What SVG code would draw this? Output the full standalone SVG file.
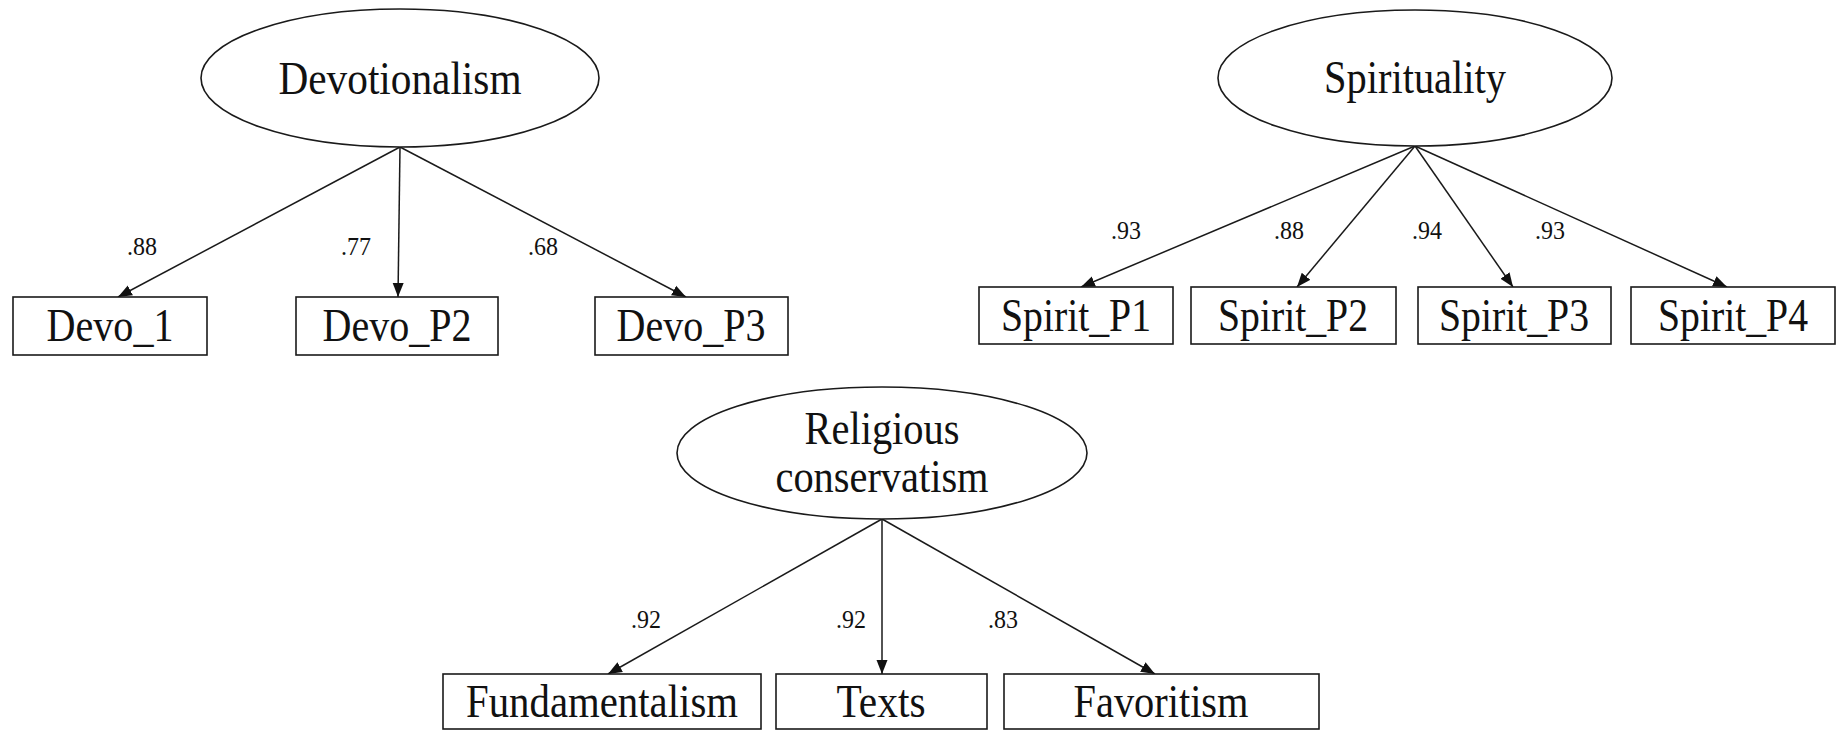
<svg xmlns="http://www.w3.org/2000/svg" width="1842" height="730" viewBox="0 0 1842 730">
  <style>
    .latent { fill: #ffffff; stroke: #1a1a1a; stroke-width: 1.6; }
    .obs { fill: #ffffff; stroke: #1a1a1a; stroke-width: 1.6; }
    .name { font-family: "Liberation Serif", "Times New Roman", serif; font-size: 46px; fill: #111111; text-anchor: middle; }
    .coef { font-family: "Liberation Serif", "Times New Roman", serif; font-size: 25px; fill: #111111; text-anchor: middle; }
    .path { stroke: #1a1a1a; stroke-width: 1.5; fill: none; marker-end: url(#head); }
  </style>
  <defs>
    <marker id="head" markerUnits="userSpaceOnUse" markerWidth="15" markerHeight="12" refX="14" refY="6" orient="auto">
      <path d="M0,0.5 L14,6 L0,11.5 z" fill="#111111"/>
    </marker>
  </defs>

  <rect width="1842" height="730" fill="#ffffff"/>

  <!-- loading paths -->
  <g id="connectors">
    <line class="path" x1="400" y1="147" x2="118" y2="297"/>
    <line class="path" x1="400" y1="147" x2="398" y2="297"/>
    <line class="path" x1="400" y1="147" x2="686" y2="297"/>

    <line class="path" x1="1415" y1="146" x2="1081" y2="287"/>
    <line class="path" x1="1415" y1="146" x2="1297" y2="287"/>
    <line class="path" x1="1415" y1="146" x2="1513" y2="287"/>
    <line class="path" x1="1415" y1="146" x2="1727" y2="287"/>

    <line class="path" x1="882" y1="519" x2="608" y2="674"/>
    <line class="path" x1="882" y1="519" x2="882" y2="674"/>
    <line class="path" x1="882" y1="519" x2="1155" y2="674"/>
  </g>

  <!-- standardized loadings -->
  <g id="loadings">
    <text class="coef" x="142" y="255" textLength="30" lengthAdjust="spacingAndGlyphs">.88</text>
    <text class="coef" x="356" y="255" textLength="30" lengthAdjust="spacingAndGlyphs">.77</text>
    <text class="coef" x="543" y="255" textLength="30" lengthAdjust="spacingAndGlyphs">.68</text>

    <text class="coef" x="1126" y="239" textLength="30" lengthAdjust="spacingAndGlyphs">.93</text>
    <text class="coef" x="1289" y="239" textLength="30" lengthAdjust="spacingAndGlyphs">.88</text>
    <text class="coef" x="1427" y="239" textLength="30" lengthAdjust="spacingAndGlyphs">.94</text>
    <text class="coef" x="1550" y="239" textLength="30" lengthAdjust="spacingAndGlyphs">.93</text>

    <text class="coef" x="646" y="628" textLength="30" lengthAdjust="spacingAndGlyphs">.92</text>
    <text class="coef" x="851" y="628" textLength="30" lengthAdjust="spacingAndGlyphs">.92</text>
    <text class="coef" x="1003" y="628" textLength="30" lengthAdjust="spacingAndGlyphs">.83</text>
  </g>

  <!-- latent factors -->
  <g id="devotionalism">
    <ellipse class="latent" cx="400" cy="78" rx="199" ry="69"/>
    <text class="name" x="400" y="94" textLength="243" lengthAdjust="spacingAndGlyphs">Devotionalism</text>
  </g>
  <g id="spirituality">
    <ellipse class="latent" cx="1415" cy="78" rx="197" ry="68"/>
    <text class="name" x="1415" y="93" textLength="182" lengthAdjust="spacingAndGlyphs">Spirituality</text>
  </g>
  <g id="religious-conservatism">
    <ellipse class="latent" cx="882" cy="453" rx="205" ry="66"/>
    <text class="name" x="882" y="444" textLength="155" lengthAdjust="spacingAndGlyphs">Religious</text>
    <text class="name" x="882" y="492" textLength="213" lengthAdjust="spacingAndGlyphs">conservatism</text>
  </g>

  <!-- indicators -->
  <g id="devo-1">
    <rect class="obs" x="13" y="297" width="194" height="58"/>
    <text class="name" x="110" y="341" textLength="127" lengthAdjust="spacingAndGlyphs">Devo_1</text>
  </g>
  <g id="devo-p2">
    <rect class="obs" x="296" y="297" width="202" height="58"/>
    <text class="name" x="397" y="341" textLength="149" lengthAdjust="spacingAndGlyphs">Devo_P2</text>
  </g>
  <g id="devo-p3">
    <rect class="obs" x="595" y="297" width="193" height="58"/>
    <text class="name" x="691" y="341" textLength="149" lengthAdjust="spacingAndGlyphs">Devo_P3</text>
  </g>

  <g id="spirit-p1">
    <rect class="obs" x="979" y="287" width="194" height="57"/>
    <text class="name" x="1076" y="331" textLength="150" lengthAdjust="spacingAndGlyphs">Spirit_P1</text>
  </g>
  <g id="spirit-p2">
    <rect class="obs" x="1191" y="287" width="205" height="57"/>
    <text class="name" x="1293" y="331" textLength="150" lengthAdjust="spacingAndGlyphs">Spirit_P2</text>
  </g>
  <g id="spirit-p3">
    <rect class="obs" x="1418" y="287" width="193" height="57"/>
    <text class="name" x="1514" y="331" textLength="150" lengthAdjust="spacingAndGlyphs">Spirit_P3</text>
  </g>
  <g id="spirit-p4">
    <rect class="obs" x="1631" y="287" width="204" height="57"/>
    <text class="name" x="1733" y="331" textLength="150" lengthAdjust="spacingAndGlyphs">Spirit_P4</text>
  </g>

  <g id="fundamentalism">
    <rect class="obs" x="443" y="674" width="318" height="55"/>
    <text class="name" x="602" y="717" textLength="272" lengthAdjust="spacingAndGlyphs">Fundamentalism</text>
  </g>
  <g id="texts">
    <rect class="obs" x="776" y="674" width="211" height="55"/>
    <text class="name" x="881" y="717" textLength="89" lengthAdjust="spacingAndGlyphs">Texts</text>
  </g>
  <g id="favoritism">
    <rect class="obs" x="1004" y="674" width="315" height="55"/>
    <text class="name" x="1161" y="717" textLength="175" lengthAdjust="spacingAndGlyphs">Favoritism</text>
  </g>
</svg>
